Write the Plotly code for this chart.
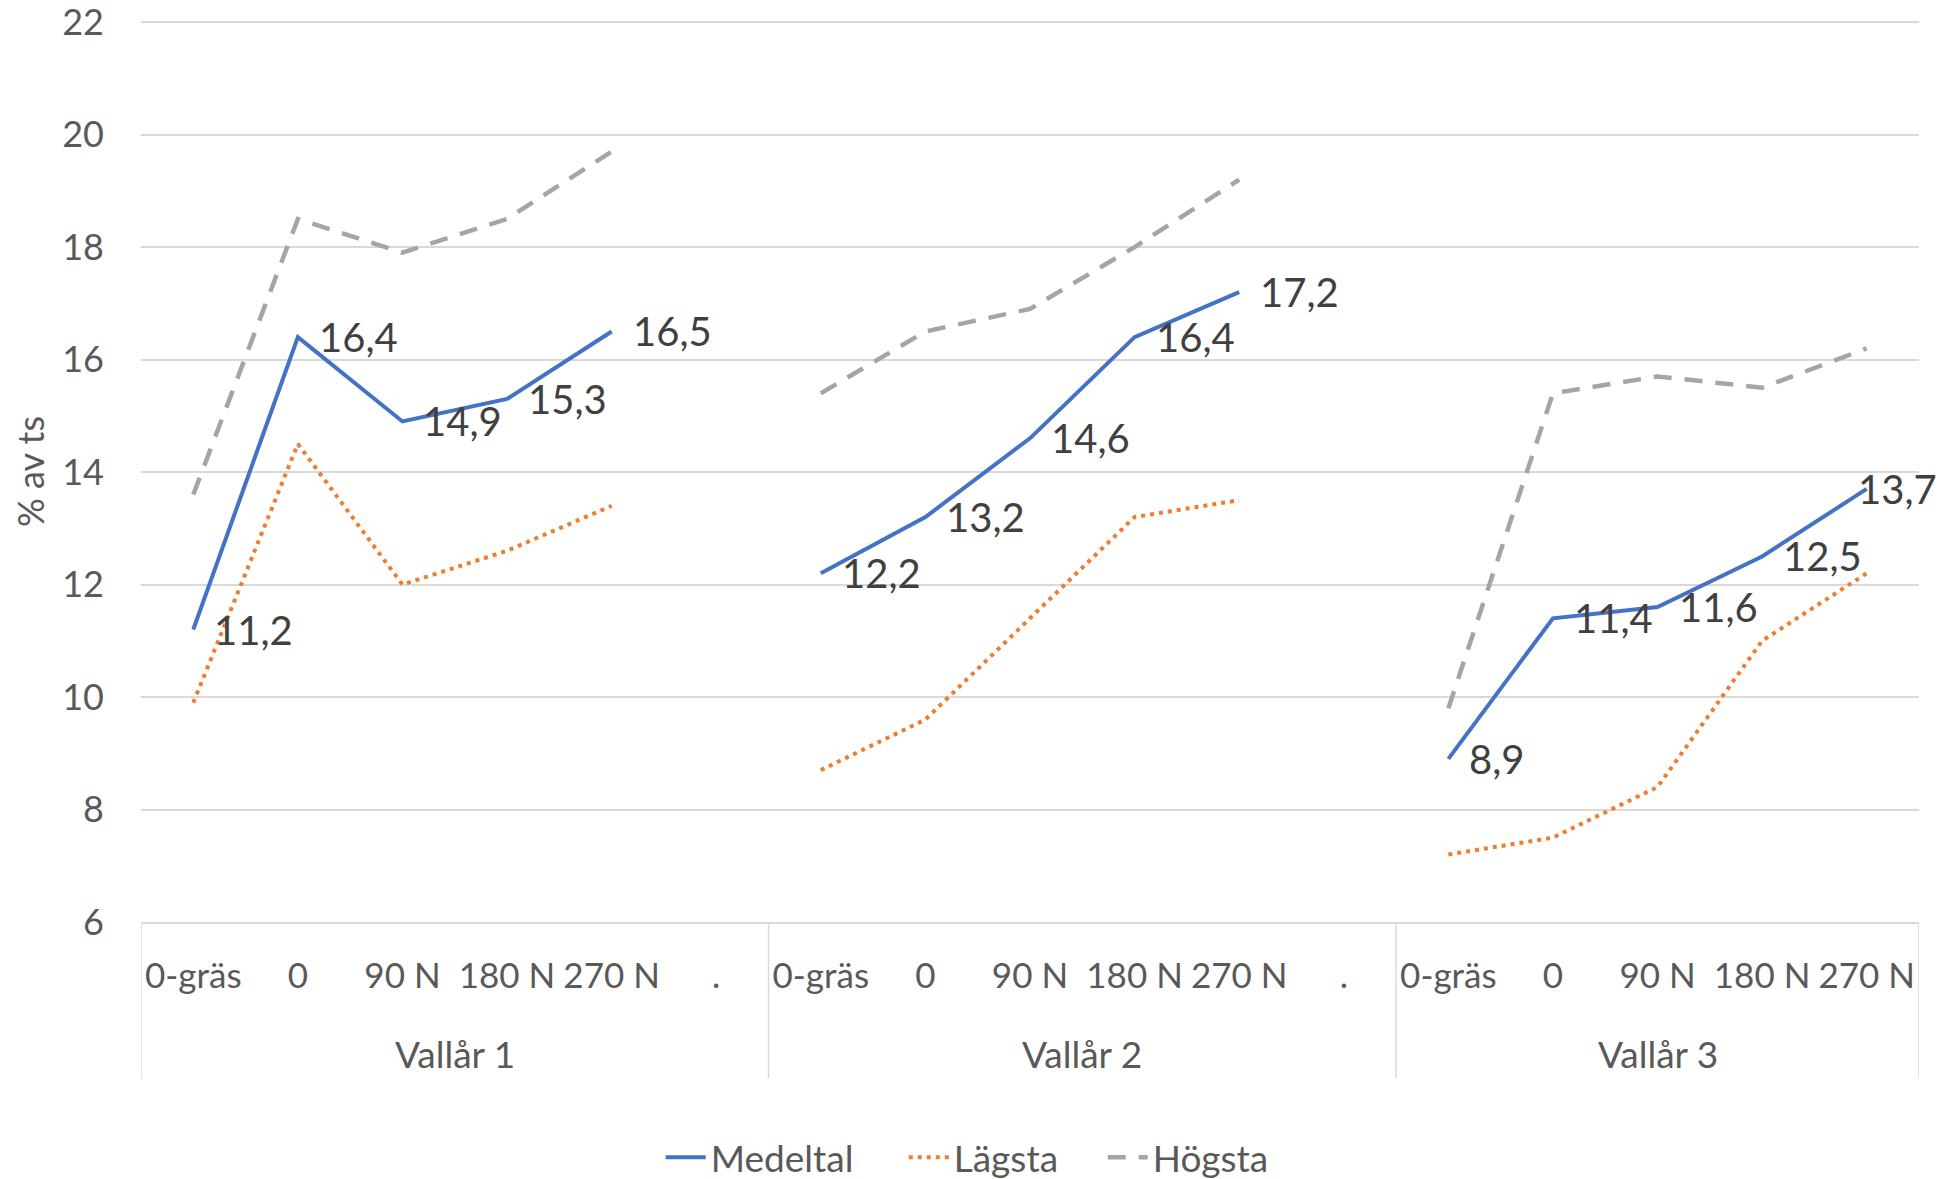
import plotly.graph_objects as go

# Category structure: three ley years, each with the same N-levels
groups = ["Vallår 1", "Vallår 2", "Vallår 3"]
group_cats = [
    ["0-gräs", "0", "90 N", "180 N", "270 N", "."],
    ["0-gräs", "0", "90 N", "180 N", "270 N", "."],
    ["0-gräs", "0", "90 N", "180 N", "270 N"],
]

# Series values (% av ts); None marks the spacer category between years
medeltal = [11.2, 16.4, 14.9, 15.3, 16.5, None,
            12.2, 13.2, 14.6, 16.4, 17.2, None,
            8.9, 11.4, 11.6, 12.5, 13.7]
lagsta = [9.9, 14.5, 12.0, 12.6, 13.4, None,
          8.7, 9.6, 11.4, 13.2, 13.5, None,
          7.2, 7.5, 8.4, 11.0, 12.2]
hogsta = [13.6, 18.5, 17.9, 18.5, 19.7, None,
          15.4, 16.5, 16.9, 18.0, 19.2, None,
          9.8, 15.4, 15.7, 15.5, 16.2]

FONT = "Lato, 'Open Sans', sans-serif"
AXIS_GREY = "#595959"
LINE_GREY = "#d9d9d9"

tick_text = [c for cats in group_cats for c in cats]
x = list(range(len(tick_text)))

fig = go.Figure()
fig.add_trace(go.Scatter(
    x=x, y=medeltal, name="Medeltal", mode="lines",
    line=dict(color="#4472C4", width=4), legendwidth=188,
))
fig.add_trace(go.Scatter(
    x=x, y=lagsta, name="Lägsta", mode="lines",
    line=dict(color="#ED7D31", width=4, dash="4px,5px"), legendwidth=144,
))
fig.add_trace(go.Scatter(
    x=x, y=hogsta, name="Högsta", mode="lines",
    line=dict(color="#A5A5A5", width=4.5, dash="18px,13px"),
))

annotations = []
# Value labels for the mean series, to the right of each point
last_idx = max(i for i, v in enumerate(medeltal) if v is not None)
for i, v in enumerate(medeltal):
    if v is None:
        continue
    annotations.append(dict(
        x=i, y=v, xref="x", yref="y",
        text=f"{v:.1f}".replace(".", ","),
        showarrow=False, xanchor="left", yanchor="middle",
        xshift=-11 if i == last_idx else 19,
        font=dict(family=FONT, size=40, color="#404040"),
    ))

# Year group labels and dividers under the category labels
start = 0
dividers = [-0.5]
for g, cats in zip(groups, group_cats):
    end = start + len(cats) - 1
    annotations.append(dict(
        x=(start + end) / 2, y=-0.1456, xref="x", yref="paper",
        text=g, showarrow=False, xanchor="center", yanchor="middle",
        font=dict(family=FONT, size=37, color=AXIS_GREY),
    ))
    dividers.append(end + 0.5)
    start = end + 1

shapes = [
    dict(type="line", xref="x", yref="paper", x0=d, x1=d, y0=0, y1=-0.1733,
         line=dict(color=LINE_GREY, width=1.5))
    for d in dividers
]

fig.update_layout(
    width=1954, height=1179,
    margin=dict(l=141, r=35, t=21, b=257, autoexpand=False),
    plot_bgcolor="white", paper_bgcolor="white",
    font=dict(family=FONT, color=AXIS_GREY),
    showlegend=True,
    legend=dict(
        orientation="h", xref="container", yref="container",
        x=0.495, xanchor="center", y=0.018, yanchor="middle",
        font=dict(family=FONT, size=37, color=AXIS_GREY),
        itemwidth=40,
    ),
    annotations=annotations,
    shapes=shapes,
)

fig.update_xaxes(
    range=[-0.5, len(x) - 0.5],
    tickmode="array", tickvals=x, ticktext=tick_text,
    showgrid=False, zeroline=False,
    showline=True, linecolor=LINE_GREY, linewidth=1.5,
    ticks="", ticklabelstandoff=22,
    tickfont=dict(family=FONT, size=35, color=AXIS_GREY),
)
fig.update_yaxes(
    range=[6, 22.02], dtick=2, tick0=6,
    showgrid=True, gridcolor=LINE_GREY, gridwidth=1.5,
    zeroline=False, showline=False,
    ticks="", ticklabelstandoff=36, ticklabeloverflow="allow",
    tickfont=dict(family=FONT, size=36, color=AXIS_GREY),
    title=dict(text="% av ts", standoff=6,
               font=dict(family=FONT, size=36, color=AXIS_GREY)),
)

fig.write_html("out.html")
